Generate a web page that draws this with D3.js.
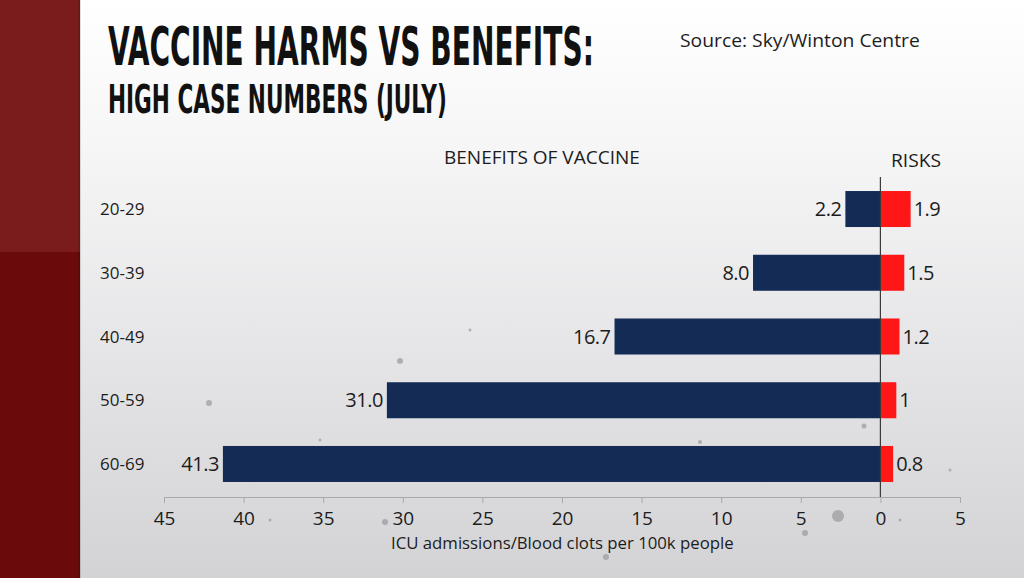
<!DOCTYPE html>
<html>
<head>
<meta charset="utf-8">
<script src="https://cdn.jsdelivr.net/npm/d3@7"></script>
<style>
  html, body { margin: 0; padding: 0; background: #fff; overflow: hidden; }
  svg { display: block; }
  .sans { font-family: "Open Sans", "Noto Sans", sans-serif; fill: #1c1c1c; }
  .title { font-family: "Liberation Sans Narrow", "DejaVu Sans Condensed", "DejaVu Sans", sans-serif;
           font-weight: bold; font-stretch: condensed; fill: #111; }
</style>
</head>
<body>
<div id="chart"></div>
<script>
// chart values
const ageGroups = ["20-29", "30-39", "40-49", "50-59", "60-69"];
const benefits = [2.2, 8.0, 16.7, 31.0, 41.3];
const risks = [1.9, 1.5, 1.2, 1, 0.8];
const benefitLabels = ["2.2", "8.0", "16.7", "31.0", "41.3"];
const riskLabels = ["1.9", "1.5", "1.2", "1", "0.8"];
const xTicks = [-45, -40, -35, -30, -25, -20, -15, -10, -5, 0, 5];

const width = 1024,
      height = 578;

const svg = d3.select("#chart").append("svg")
    .attr("width", width)
    .attr("height", height);

/** Background: pale grey gradient with dark red strip on the left */
const defs = svg.append("defs");
const bg = defs.append("linearGradient")
    .attr("id", "bg")
    .attr("x1", 0).attr("y1", 0).attr("x2", 0).attr("y2", 1);
bg.append("stop").attr("offset", "0%").attr("stop-color", "#ffffff");
bg.append("stop").attr("offset", "25%").attr("stop-color", "#f6f6f7");
bg.append("stop").attr("offset", "100%").attr("stop-color", "#d3d3d6");

svg.append("rect")
    .attr("width", width).attr("height", height)
    .attr("fill", "url(#bg)");

svg.append("rect")
    .attr("x", 0).attr("y", 0).attr("width", 80).attr("height", 252)
    .attr("fill", "#7a1c1c");
svg.append("rect")
    .attr("x", 0).attr("y", 252).attr("width", 80).attr("height", height - 252)
    .attr("fill", "#6b0a0a");
svg.append("rect")
    .attr("x", 78).attr("y", 0).attr("width", 3).attr("height", height)
    .attr("fill", "#000").attr("opacity", 0.12);

// a few of the grey speckles in the backdrop
const specks = [[838, 516, 6], [400, 361, 3], [209, 403, 3], [385, 522, 3], [606, 557, 3],
                [805, 533, 3], [864, 426, 2.5], [700, 442, 2], [560, 392, 1.5], [470, 330, 1.5],
                [900, 520, 1.5], [950, 470, 1.5], [270, 520, 1.5], [320, 440, 1.5]];
svg.append("g").selectAll("circle")
    .data(specks)
    .join("circle")
    .attr("cx", d => d[0]).attr("cy", d => d[1]).attr("r", d => d[2])
    .attr("fill", "#9a9a9e").attr("opacity", 0.7);

/** Titles: squeeze a condensed bold face to the width of the original */
const fitText = (sel, targetWidth) => {
    const w = sel.node().getComputedTextLength();
    const x0 = +sel.attr("x"), y0 = +sel.attr("y");
    sel.attr("x", 0).attr("y", 0)
       .attr("transform", `translate(${x0},${y0}) scale(${targetWidth / w},1)`);
};

svg.append("text").attr("class", "title")
    .attr("x", 108).attr("y", 65)
    .attr("font-size", 53)
    .text("VACCINE HARMS VS BENEFITS:")
    .call(fitText, 486);

svg.append("text").attr("class", "title")
    .attr("x", 108).attr("y", 113)
    .attr("font-size", 39)
    .text("HIGH CASE NUMBERS (JULY)")
    .call(fitText, 339);

svg.append("text").attr("class", "sans")
    .attr("x", 680).attr("y", 47)
    .attr("font-size", 19)
    .text("Source: Sky/Winton Centre")
    .call(fitText, 240);

svg.append("text").attr("class", "sans")
    .attr("x", 444).attr("y", 164)
    .attr("font-size", 18)
    .text("BENEFITS OF VACCINE")
    .call(fitText, 196);

svg.append("text").attr("class", "sans")
    .attr("x", 891).attr("y", 167)
    .attr("font-size", 18)
    .text("RISKS")
    .call(fitText, 50);

/** Scales */
const x = d3.scaleLinear()
    .domain([-45, 5])
    .range([164, 960]);

const y = d3.scaleBand()
    .domain(ageGroups)
    .range([177, 496])
    .paddingInner(0.435)
    .paddingOuter(0.22);

/** Axis */
const axis = svg.append("g")
    .attr("transform", "translate(0,497)")
    .call(d3.axisBottom(x)
        .tickValues(xTicks)
        .tickSize(6)
        .tickPadding(9)
        .tickFormat(d => Math.abs(d)));
axis.select(".domain").attr("stroke", "#a9a9ad");
axis.selectAll(".tick line").attr("stroke", "#a9a9ad");
axis.selectAll(".tick text")
    .attr("class", "sans")
    .attr("font-size", 19)
    .attr("fill", "#1c1c1c");

svg.append("text").attr("class", "sans")
    .attr("x", 391).attr("y", 549)
    .attr("font-size", 16)
    .text("ICU admissions/Blood clots per 100k people")
    .call(fitText, 343);

/** Bars */
const rows = ageGroups.map((g, i) => ({
    group: g,
    benefit: benefits[i],
    risk: risks[i],
    benefitLabel: benefitLabels[i],
    riskLabel: riskLabels[i]
}));

const row = svg.append("g").selectAll("g")
    .data(rows)
    .join("g")
    .attr("transform", d => `translate(0,${y(d.group)})`);

row.append("rect")
    .attr("x", d => x(-d.benefit))
    .attr("width", d => x(0) - x(-d.benefit))
    .attr("height", y.bandwidth())
    .attr("fill", "#132b55");

row.append("rect")
    .attr("x", x(0))
    .attr("width", d => x(d.risk) - x(0))
    .attr("height", y.bandwidth())
    .attr("fill", "#ff1616");

row.append("text").attr("class", "sans")
    .attr("x", d => x(-d.benefit) - 4)
    .attr("y", y.bandwidth() / 2)
    .attr("dy", "0.36em")
    .attr("text-anchor", "end")
    .attr("font-size", 20)
    .attr("letter-spacing", -0.5)
    .text(d => d.benefitLabel);

row.append("text").attr("class", "sans")
    .attr("x", d => x(d.risk) + 3)
    .attr("y", y.bandwidth() / 2)
    .attr("dy", "0.36em")
    .attr("font-size", 20)
    .attr("letter-spacing", -0.5)
    .text(d => d.riskLabel);

row.append("text").attr("class", "sans")
    .attr("x", 100)
    .attr("y", y.bandwidth() / 2)
    .attr("dy", "0.36em")
    .attr("font-size", 17)
    .text(d => d.group);

// zero line
svg.append("line")
    .attr("x1", x(0)).attr("x2", x(0))
    .attr("y1", 177).attr("y2", 497)
    .attr("stroke", "#3a3a3a")
    .attr("stroke-width", 1.2);
</script>
</body>
</html>
